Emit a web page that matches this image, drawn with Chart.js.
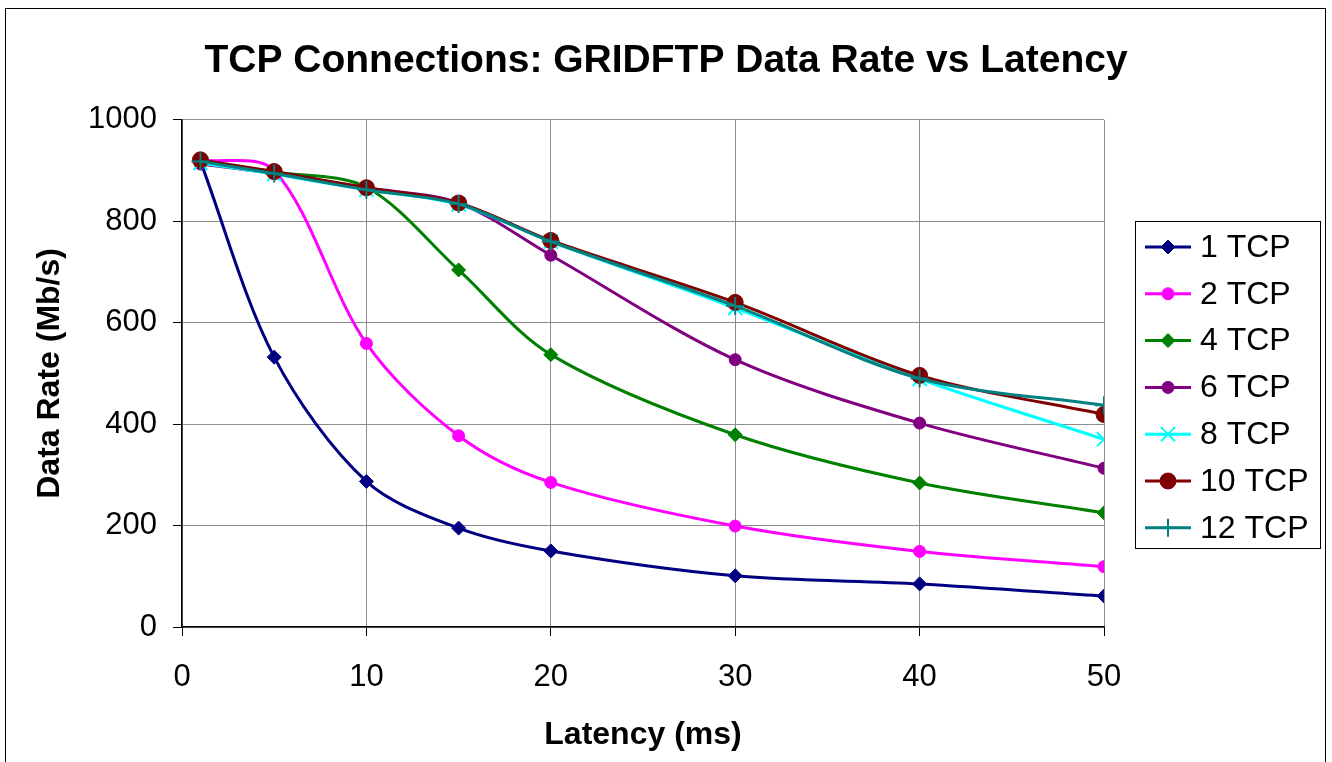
<!DOCTYPE html>
<html>
<head>
<meta charset="utf-8">
<script src="https://cdn.jsdelivr.net/npm/chart.js@4.4.0/dist/chart.umd.min.js"></script>
<style>
  html, body { margin: 0; padding: 0; background: #fff; }
  #wrap { width: 1332px; height: 762px; position: relative; }
</style>
</head>
<body>
<div id="wrap"><canvas id="myChart"></canvas></div>
<script>
// latency (ms) on x
const latency = [1, 5, 10, 15, 20, 30, 40, 50];

// data rate (Mb/s) per number of tcp connections
const tcp1 = [918, 532, 287, 195, 150, 101, 85, 61];
const tcp2 = [921, 900, 559, 377, 285, 199, 149, 119];
const tcp4 = [918, 897, 867, 704, 537, 379, 284, 225];
const tcp6 = [913, 894, 866, 836, 733, 527, 402, 313];
const tcp8 = [915, 893, 862, 833, 760, 629, 489, 370];
const tcp10 = [921, 898, 866, 836, 762, 640, 496, 419];
const tcp12 = [918, 894, 862, 834, 760, 633, 490, 437];

const seriesNames = ["1 TCP", "2 TCP", "4 TCP", "6 TCP", "8 TCP", "10 TCP", "12 TCP"];
const series = [tcp1, tcp2, tcp4, tcp6, tcp8, tcp10, tcp12];

const yTicks = [0, 200, 400, 600, 800, 1000];
const xTicks = [0, 10, 20, 30, 40, 50];

// looks of each line (excel default-ish)
const colors = ["#000080", "#FF00FF", "#008000", "#800080", "#00FFFF", "#800000", "#008080"];
const markers = ["rectRot", "circle", "rectRot", "circle", "crossRot", "circle", "cross"];
const markerSize = [7, 6, 7, 6, 10, 8, 9];

const FONT = "'Liberation Sans', Arial, sans-serif";

const datasets = series.map(function (vals, i) {
  const cross = markers[i] === "cross" || markers[i] === "crossRot";
  return {
    label: seriesNames[i],
    data: vals.map(function (v, j) { return { x: latency[j], y: v }; }),
    borderColor: colors[i],
    backgroundColor: colors[i],
    borderWidth: 3,
    tension: 0.32,
    pointStyle: markers[i],
    pointRadius: markerSize[i],
    pointBorderWidth: cross ? 2 : 1,
    pointBackgroundColor: colors[i],
    pointBorderColor: colors[i],
    order: series.length - i, // last series on top like excel
  };
});

// frame around the whole thing + excel style legend box
const excelBits = {
  id: "excelBits",
  beforeDraw(chart) {
    const ctx = chart.ctx;
    ctx.save();
    ctx.fillStyle = "#fff";
    ctx.fillRect(0, 0, chart.width, chart.height);
    ctx.strokeStyle = "#000";
    ctx.lineWidth = 1;
    ctx.strokeRect(5.5, 8.5, 1320, 800);
    ctx.restore();
  },
  afterDraw(chart) {
    const ctx = chart.ctx;
    const boxX = 1135, boxY = 221, boxW = 185, boxH = 327;
    const rowH = 46.8;
    ctx.save();
    ctx.fillStyle = "#fff";
    ctx.fillRect(boxX, boxY, boxW, boxH);
    ctx.strokeStyle = "#000";
    ctx.lineWidth = 1;
    ctx.strokeRect(boxX + 0.5, boxY + 0.5, boxW, boxH);
    chart.data.datasets.forEach(function (ds, i) {
      const y = boxY + 26 + i * rowH;
      ctx.strokeStyle = ds.borderColor;
      ctx.lineWidth = 3;
      ctx.beginPath();
      ctx.moveTo(1145, y);
      ctx.lineTo(1191, y);
      ctx.stroke();
      ctx.fillStyle = ds.pointBackgroundColor;
      ctx.strokeStyle = ds.pointBorderColor;
      ctx.lineWidth = ds.pointBorderWidth;
      Chart.helpers.drawPoint(ctx, {
        pointStyle: ds.pointStyle,
        radius: ds.pointRadius,
        rotation: 0,
        borderWidth: ds.pointBorderWidth,
      }, 1168, y);
      ctx.fillStyle = "#000";
      ctx.font = "32px " + FONT;
      ctx.textBaseline = "middle";
      ctx.textAlign = "left";
      ctx.fillText(ds.label, 1200, y + 1);
    });
    ctx.restore();
  },
};

const config = {
  type: "line",
  data: { datasets: datasets },
  options: {
    responsive: true,
    maintainAspectRatio: false,
    animation: false,
    layout: { padding: { top: 10, left: 0, right: 0, bottom: 0 } },
    plugins: {
      legend: { display: false },
      tooltip: { enabled: false },
      title: {
        display: true,
        text: "TCP Connections: GRIDFTP Data Rate vs Latency",
        color: "#000",
        font: { family: FONT, size: 39, weight: "bold" },
        padding: { top: 28, bottom: 35 },
      },
    },
    scales: {
      x: {
        type: "linear",
        min: 0,
        max: 50,
        afterBuildTicks(axis) {
          axis.ticks = xTicks.map(function (v) { return { value: v }; });
        },
        afterFit(axis) { axis.height = 135; },
        grid: { color: "#8c8c8c", lineWidth: 1, tickColor: "#000", tickLength: 9 },
        border: { color: "#000", width: 1.5 },
        ticks: { color: "#000", padding: 23, maxRotation: 0, font: { family: FONT, size: 31 } },
        title: {
          display: true,
          text: "Latency (ms)",
          color: "#000",
          font: { family: FONT, size: 32, weight: "bold" },
          padding: { top: 0, bottom: 8 },
        },
      },
      y: {
        min: 0,
        max: 1000,
        afterBuildTicks(axis) {
          axis.ticks = yTicks.map(function (v) { return { value: v }; });
        },
        afterFit(axis) { axis.width = 182; },
        grid: { color: "#8c8c8c", lineWidth: 1, tickColor: "#000", tickLength: 9 },
        border: { color: "#000", width: 1.5 },
        ticks: {
          color: "#000",
          padding: 16,
          font: { family: FONT, size: 31 },
          callback: function (v) { return String(v); },
        },
        title: {
          display: true,
          text: "Data Rate (Mb/s)",
          color: "#000",
          font: { family: FONT, size: 32, weight: "bold" },
          padding: { top: 31, bottom: 0 },
        },
      },
      // empty strip on the right where the legend box sits
      legendSpace: {
        position: "right",
        min: 0,
        max: 1,
        afterFit(axis) { axis.width = 228; },
        grid: { display: false, drawTicks: false },
        border: { display: false },
        ticks: { display: false },
      },
    },
  },
  plugins: [excelBits],
};

const myChart = new Chart(document.getElementById("myChart"), config);
</script>
</body>
</html>
